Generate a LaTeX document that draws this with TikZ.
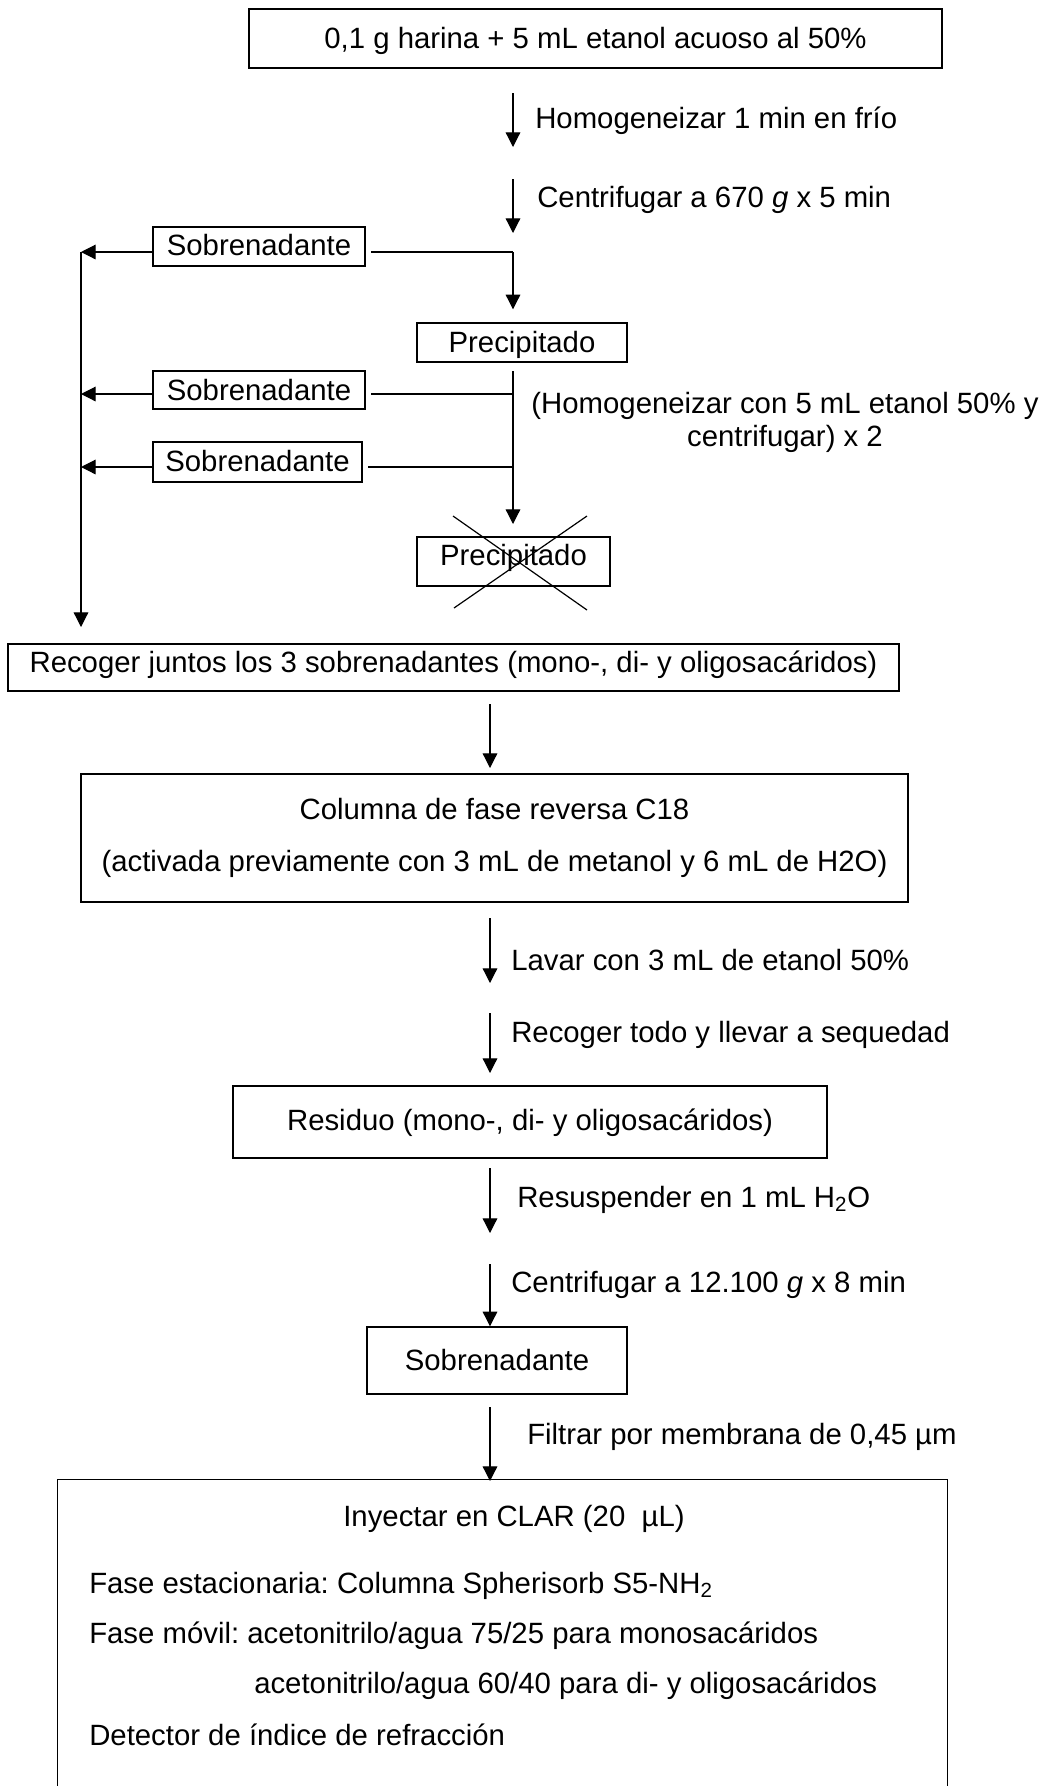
\documentclass[tikz,border=0pt]{standalone}
\usepackage{fontspec}
\setmainfont{Liberation Sans}
\usetikzlibrary{arrows.meta}
\newdimen\pxu \pxu=0.75pt
\frenchspacing

\begin{document}
\begin{tikzpicture}[x=0.75pt, y=-0.75pt,
  font=\fontsize{22}{26}\selectfont,
  frame/.style={draw, line width=1.1pt, inner sep=0pt},
  box/.style={frame, anchor=base},
  lbl/.style={inner sep=0pt, anchor=base west},
  flow/.style={line width=0.9pt, -{Triangle[length=11pt,width=11pt]}},
  plain/.style={line width=0.9pt}]

\useasboundingbox (0,0) rectangle (1044,1786);

% ---------- extraction ----------
\node[box, minimum width=693\pxu, text height=39\pxu, text depth=20\pxu] (start) at (595.5,48)
  {0,1 g harina + 5 mL etanol acuoso al 50\%};

\coordinate (a1s) at (513,93);  \coordinate (a1e) at (513,147);
\coordinate (a2s) at (513,179); \coordinate (a2e) at (513,233);
\draw[flow] (a1s) -- (a1e);
\draw[flow] (a2s) -- (a2e);
\node[lbl] (l1) at (535,128) {Homogeneizar 1 min en frío};
\node[lbl] (l2) at (537,207) {Centrifugar a 670 \textit{g} x 5 min};

\node[box, minimum width=212\pxu, text height=28\pxu, text depth=11\pxu] (sob1) at (259,255) {Sobrenadante};
\node[box, minimum width=210\pxu, text height=29\pxu, text depth=10\pxu] (prec1) at (522,352) {Precipitado};
\node[box, minimum width=212\pxu, text height=29\pxu, text depth=9\pxu] (sob2) at (259,400) {Sobrenadante};
\node[box, minimum width=209\pxu, text height=29\pxu, text depth=11\pxu] (sob3) at (257.5,471) {Sobrenadante};
\node[box, minimum width=193\pxu, text height=28\pxu, text depth=21\pxu] (prec2) at (513.5,565) {Precipitado};

% junctions of the supernatant branches
\coordinate (j1) at (513,252);
\coordinate (j2) at (513,394);
\coordinate (j3) at (513,467);
\coordinate (c1) at (81,252);
\coordinate (c2) at (81,627);
\coordinate (a3s) at (513,371);
\coordinate (a3e) at (513,524);

\draw[plain, shorten <=4pt] (sob1.east |- j1) -- (j1);
\draw[flow, shorten >=9.75pt] (j1) -- (j1 |- prec1.north);
\draw[flow] (sob1.west |- j1) -- (c1);
\draw[flow] (a3s) -- (a3e);
\draw[plain, shorten <=4pt] (sob2.east |- j2) -- (j2);
\draw[plain, shorten <=4pt] (sob3.east |- j3) -- (j3);
\draw[flow] (sob2.west |- j2) -- (c1 |- j2);
\draw[flow] (sob3.west |- j3) -- (c1 |- j3);
\draw[flow] (c1) -- (c2);

\node[inner sep=0pt, anchor=base, align=center, font=\fontsize{22}{24.75}\selectfont] (l3) at (785,446)
  {(Homogeneizar con 5 mL etanol 50\% y\\centrifugar) x 2};

% discarded pellet
\draw[plain] (453,516) -- (587,610);
\draw[plain] (587,516) -- (454,608);

\node[box, minimum width=891\pxu, text height=28\pxu, text depth=19\pxu] (pool) at (453.5,672)
  {Recoger juntos los 3 sobrenadantes (mono-, di- y oligosacáridos)};

% ---------- clean-up ----------
\coordinate (b1s) at (490,704);  \coordinate (b1e) at (490,768);
\draw[flow] (b1s) -- (b1e);

\node[frame, minimum width=827\pxu, minimum height=128\pxu, align=center,
      font=\fontsize{22}{39}\selectfont] (col) at (494.5,838)
  {Columna de fase reversa C18\\(activada previamente con 3 mL de metanol y 6 mL de H2O)};

\coordinate (b2s) at (490,918);  \coordinate (b2e) at (490,983);
\coordinate (b3s) at (490,1013); \coordinate (b3e) at (490,1073);
\draw[flow] (b2s) -- (b2e);
\draw[flow] (b3s) -- (b3e);
\node[lbl] (l4) at (511,970) {Lavar con 3 mL de etanol 50\%};
\node[lbl] (l5) at (511,1042) {Recoger todo y llevar a sequedad};

\node[box, minimum width=594\pxu, text height=44\pxu, text depth=28\pxu] (res) at (530,1130)
  {Residuo (mono-, di- y oligosacáridos)};

\coordinate (b4s) at (490,1168); \coordinate (b4e) at (490,1233);
\coordinate (b5s) at (490,1264);
\draw[flow] (b4s) -- (b4e);
\node[lbl] (l6) at (517,1207) {Resuspender en 1 mL H\textsubscript{2}O};

\node[box, minimum width=260\pxu, text height=43\pxu, text depth=24\pxu] (sob4) at (497,1370) {Sobrenadante};
\draw[flow] (b5s) -- (b5s |- sob4.north);
\node[lbl] (l7) at (511,1292) {Centrifugar a 12.100 \textit{g} x 8 min};

% ---------- HPLC ----------
\node[frame, minimum width=890\pxu, minimum height=360\pxu, anchor=north west] (clar) at (57,1479) {};
\coordinate (b6s) at (490,1407);
\draw[flow] (b6s) -- ([yshift=-1.5pt]b6s |- clar.north);
\node[lbl] (l8) at (527,1444) {Filtrar por membrana de 0,45 µm};

\node[inner sep=0pt, anchor=base] (t0) at (514,1526) {Inyectar en CLAR (20~~µL)};
\node[lbl] (t1) at (89,1593) {Fase estacionaria: Columna Spherisorb S5-NH\textsubscript{2}};
\node[lbl] (t2) at (89,1643) {Fase móvil: acetonitrilo/agua 75/25 para monosacáridos};
\node[lbl] (t3) at (254,1693) {acetonitrilo/agua 60/40 para di- y oligosacáridos};
\node[lbl] (t4) at (89,1745) {Detector de índice de refracción};

\end{tikzpicture}
\end{document}
